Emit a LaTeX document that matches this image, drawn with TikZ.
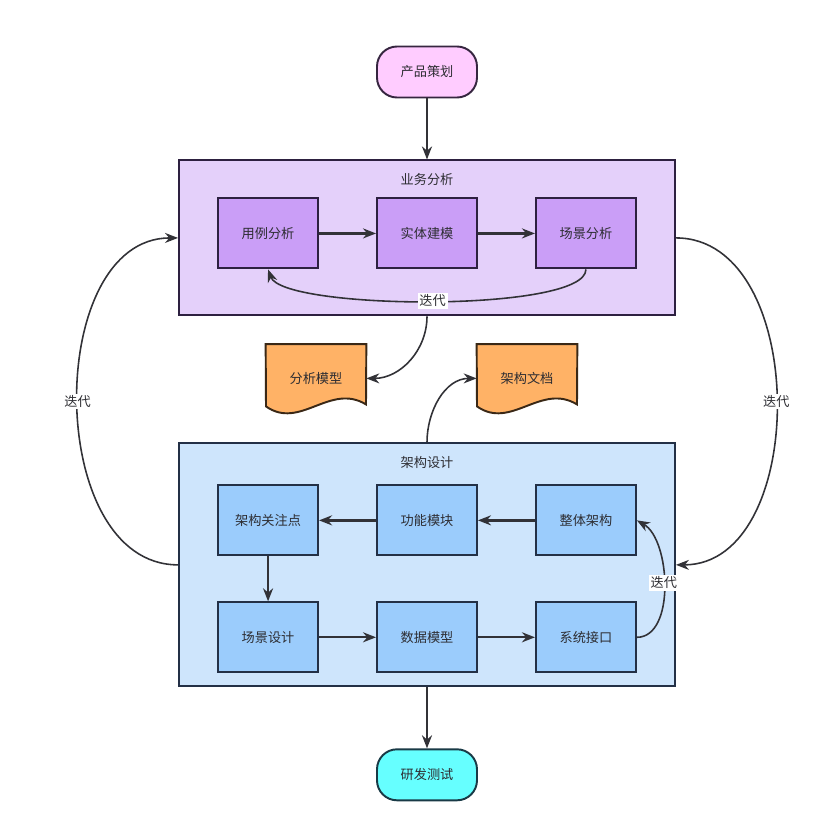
\documentclass[tikz,border=0pt]{standalone}
\usepackage{fontspec}
\setmainfont{Noto Sans CJK SC}
\usepackage{tikz}
\usetikzlibrary{arrows.meta, positioning, calc, backgrounds}
\definecolor{planFill}{RGB}{255,204,255}
\definecolor{planLine}{RGB}{54,38,64}
\definecolor{bizGroupFill}{RGB}{228,208,250}
\definecolor{bizFill}{RGB}{202,158,247}
\definecolor{bizLine}{RGB}{45,32,64}
\definecolor{docFill}{RGB}{255,178,102}
\definecolor{docLine}{RGB}{58,40,22}
\definecolor{archGroupFill}{RGB}{206,229,252}
\definecolor{archFill}{RGB}{155,204,252}
\definecolor{archLine}{RGB}{35,48,70}
\definecolor{testFill}{RGB}{102,255,255}
\definecolor{testLine}{RGB}{25,58,70}
\definecolor{ink}{RGB}{45,45,50}
\definecolor{arrowInk}{RGB}{50,50,55}
\tikzset{
  box/.style={
    line width=1.1pt,
    minimum width=20mm,
    minimum height=14mm,
    align=center,
    font=\fontsize{7.5}{9}\selectfont,
    text=ink
  },
  bizBox/.style={box, fill=bizFill, draw=bizLine},
  archBox/.style={box, fill=archFill, draw=archLine},
  terminal/.style={box, rounded corners=4mm, minimum height=10.2mm},
  group/.style={line width=1.1pt, minimum width=99.2mm, inner sep=0pt},
  title/.style={font=\fontsize{7.5}{9}\selectfont, text=ink},
  docNode/.style={minimum width=20mm, minimum height=13.6mm, inner sep=0pt,
    font=\fontsize{7.5}{9}\selectfont, text=ink},
  docShape/.style={draw=docLine, fill=docFill, line width=1.1pt},
  flow/.style={-{Stealth[length=2.6mm,width=2mm]}, line width=1.3pt, draw=arrowInk},
  loop/.style={flow, line width=0.9pt},
  tag/.style={font=\fontsize{7.5}{9}\selectfont, fill=white, inner sep=1pt, text=ink}
}
% document outline: flat top, wavy bottom
\newcommand{\docOutline}[1]{%
  \begin{scope}[on background layer]
    \draw[docShape] (#1.north west) -- (#1.north east)
      -- ($(#1.center)+(10mm,-5.2mm)$)
      .. controls ($(#1.center)+(2.8mm,-0.8mm)$) and ($(#1.center)+(-3.2mm,-10.4mm)$)
      .. ($(#1.center)+(-10mm,-5.6mm)$) -- cycle;
  \end{scope}}

\begin{document}
\begin{tikzpicture}[node distance=9mm and 11.4mm]
  \node[terminal, fill=planFill, draw=planLine] (plan) {产品策划};
  \begin{scope}[on background layer]
    \fill[white] ($(plan.center)+(-85.4mm,14.4mm)$) rectangle ($(plan.center)+(82.6mm,-151.6mm)$);
  \end{scope}
  \useasboundingbox ($(plan.center)+(-85.4mm,14.4mm)$) rectangle ($(plan.center)+(82.6mm,-151.6mm)$);

  % business analysis
  \node[group, fill=bizGroupFill, draw=bizLine, minimum height=31mm, below=12.2mm of plan] (biz) {};
  \node[title] (bizTitle) at ($(biz.north)+(0,-4mm)$) {业务分析};
  \node[bizBox] (entity) at ($(biz.center)+(0,0.9mm)$) {实体建模};
  \node[bizBox, left=of entity] (usecase) {用例分析};
  \node[bizBox, right=of entity] (scene) {场景分析};

  % documents
  \node[docNode] (anaModel) at ($(biz.south)+(-22.2mm,-12.4mm)$) {分析模型};
  \node[docNode] (archDoc) at ($(biz.south)+(20mm,-12.4mm)$) {架构文档};
  \docOutline{anaModel}
  \docOutline{archDoc}

  % architecture design
  \node[group, fill=archGroupFill, draw=archLine, minimum height=48.6mm, below=25.2mm of biz] (arch) {};
  \node[title] (archTitle) at ($(arch.north)+(0,-4mm)$) {架构设计};
  \node[archBox] (module) at ($(arch.center)+(0,8.9mm)$) {功能模块};
  \node[archBox, left=of module] (concern) {架构关注点};
  \node[archBox, right=of module] (overall) {整体架构};
  \node[archBox, below=of concern] (sceneDesign) {场景设计};
  \node[archBox, below=of module] (dataModel) {数据模型};
  \node[archBox, below=of overall] (iface) {系统接口};

  \node[terminal, fill=testFill, draw=testLine, below=12.2mm of arch] (test) {研发测试};

  \draw[flow] (plan) -- (biz);
  \draw[flow] (usecase) -- (entity);
  \draw[flow] (entity) -- (scene);
  \draw[loop] (scene.south) to[out=-90, in=-70, looseness=0.35] node[tag] {迭代} (usecase.south);
  \draw[loop] (biz.south) to[out=-90, in=0] (anaModel.east);
  \draw[loop] (arch.north) to[out=90, in=180] (archDoc.west);
  \draw[loop] (arch.west) to[out=180, in=180, looseness=1.05] node[tag] {迭代} (biz.west);
  \draw[loop] (biz.east) to[out=0, in=0, looseness=1.05] node[tag] {迭代} (arch.east);
  \draw[flow] (overall) -- (module);
  \draw[flow] (module) -- (concern);
  \draw[flow] (concern) -- (sceneDesign);
  \draw[flow] (sceneDesign) -- (dataModel);
  \draw[flow] (dataModel) -- (iface);
  \draw[loop] (iface.east) to[out=0, in=-30, looseness=0.85] node[tag, pos=0.52] {迭代} (overall.east);
  \draw[flow] (arch) -- (test);
\end{tikzpicture}
\end{document}
